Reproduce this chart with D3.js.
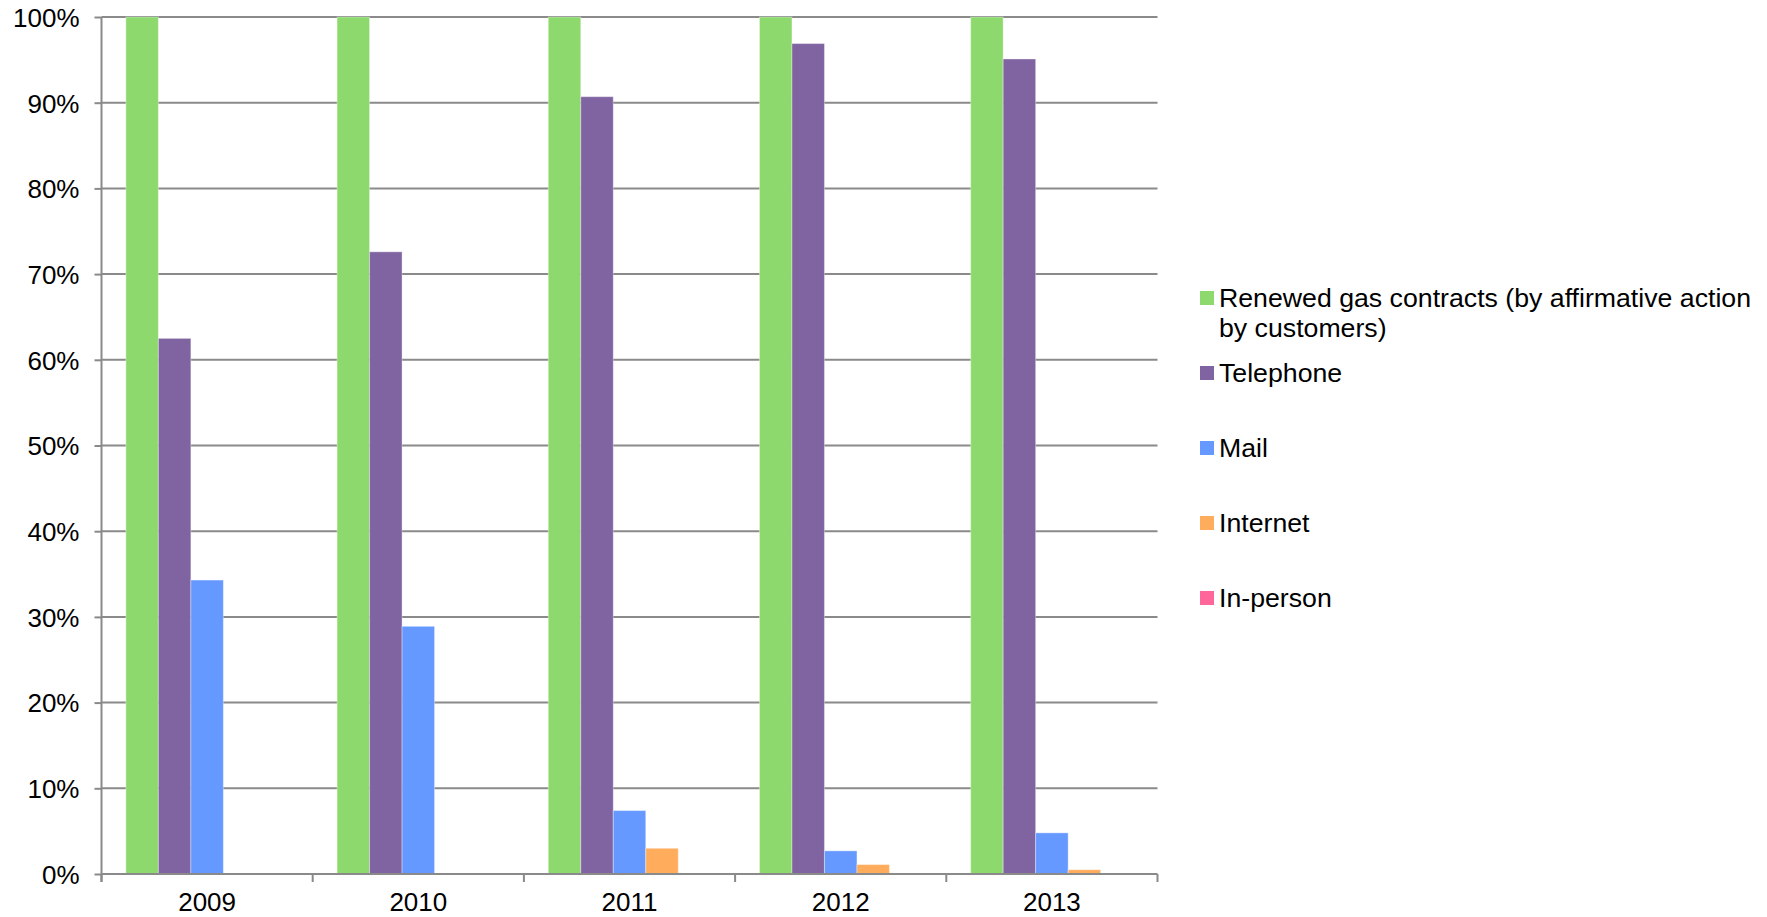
<!DOCTYPE html>
<html>
<head>
<meta charset="utf-8">
<script src="https://cdn.jsdelivr.net/npm/d3@7"></script>
<style>
  html, body { margin: 0; padding: 0; background: #ffffff; }
  svg { display: block; }
  text { font-family: "Liberation Sans", Arial, sans-serif; fill: #000; }
</style>
</head>
<body>
<svg id="chart" width="1767" height="917"></svg>
<script>
// Contract renewal channels by year (share of renewed contracts)
const years = ["2009", "2010", "2011", "2012", "2013"];
const seriesNames = [
  "Renewed gas contracts (by affirmative action by customers)",
  "Telephone",
  "Mail",
  "Internet",
  "In-person"
];
const renewed   = [1.000, 1.000, 1.000, 1.000, 1.000];
const telephone = [0.625, 0.726, 0.907, 0.969, 0.951];
const mail      = [0.343, 0.289, 0.074, 0.027, 0.048];
const internet  = [0.000, 0.000, 0.030, 0.011, 0.005];
const inPerson  = [0.000, 0.000, 0.000, 0.000, 0.000];
const yTicks = [0, 0.1, 0.2, 0.3, 0.4, 0.5, 0.6, 0.7, 0.8, 0.9, 1.0];

const seriesValues = [renewed, telephone, mail, internet, inPerson];
const colors = ["#8ED96E", "#8064A2", "#6699FF", "#FFAD5C", "#FF6699"];

const svg = d3.select("#chart");
const fontSize = 26;
const legendFontSize = 26.7;
const plot = { left: 101.5, right: 1157.5, top: 17, bottom: 874 };

const x = d3.scaleBand().domain(years).range([plot.left, plot.right]).padding(0);
const xInner = d3.scaleBand().domain(d3.range(seriesNames.length))
  .range([0, x.bandwidth()]).paddingInner(0).paddingOuter(0.75);
const y = d3.scaleLinear().domain([0, 1]).range([plot.bottom, plot.top]);

const gridColor = "#8a8a8a";

// Horizontal gridlines
svg.append("g")
  .selectAll("line")
  .data(yTicks.filter(d => d > 0))
  .join("line")
  .attr("x1", plot.left).attr("x2", plot.right)
  .attr("y1", d => y(d)).attr("y2", d => y(d))
  .attr("stroke", gridColor).attr("stroke-width", 2);

// Bars
const groups = svg.append("g")
  .selectAll("g")
  .data(seriesValues)
  .join("g")
  .attr("fill", (d, i) => colors[i]);

groups.selectAll("rect")
  .data((vals, si) => vals.map((v, yi) => ({ si, year: years[yi], v })))
  .join("rect")
  .filter(d => d.v > 0)
  .attr("x", d => x(d.year) + xInner(d.si))
  .attr("width", xInner.bandwidth())
  .attr("y", d => y(d.v))
  .attr("height", d => y(0) - y(d.v))
  .attr("stroke", "rgba(255,255,255,0.35)")
  .attr("stroke-width", 1);

// Y axis
const yAxis = d3.axisLeft(y)
  .tickValues(yTicks)
  .tickFormat(d3.format(".0%"))
  .tickSize(7)
  .tickPadding(15);
const gy = svg.append("g")
  .attr("transform", `translate(${plot.left},0)`)
  .call(yAxis);
gy.select(".domain").attr("stroke", gridColor).attr("stroke-width", 2)
  .attr("d", `M0,${plot.top}V${plot.bottom + 8}`);
gy.selectAll(".tick line").attr("stroke", gridColor).attr("stroke-width", 2);
gy.selectAll(".tick text")
  .attr("font-size", fontSize)
  .attr("font-family", "Liberation Sans, Arial, sans-serif")
  .attr("fill", "#000")
  .attr("dy", "0.36em");

// X axis: labels at band centres, tick marks at band boundaries
const xAxis = d3.axisBottom(x).tickSize(0).tickPadding(19);
const gx = svg.append("g")
  .attr("transform", `translate(0,${plot.bottom})`)
  .call(xAxis);
gx.select(".domain").attr("stroke", gridColor).attr("stroke-width", 2)
  .attr("d", `M${plot.left},0H${plot.right}`);
gx.selectAll(".tick text")
  .attr("font-size", fontSize)
  .attr("font-family", "Liberation Sans, Arial, sans-serif")
  .attr("fill", "#000");

const boundaries = years.map(d => x(d)).concat([x(years[years.length - 1]) + x.bandwidth()]);
gx.append("g")
  .selectAll("line")
  .data(boundaries)
  .join("line")
  .attr("x1", d => d).attr("x2", d => d)
  .attr("y1", 0).attr("y2", 8)
  .attr("stroke", gridColor).attr("stroke-width", 2);

// Legend
const legend = svg.append("g").attr("transform", "translate(1200,0)");
const legendY = [298, 373, 448, 523, 598];
const legendLines = [
  ["Renewed gas contracts (by affirmative action", "by customers)"],
  ["Telephone"], ["Mail"], ["Internet"], ["In-person"]
];
const items = legend.selectAll("g")
  .data(seriesNames)
  .join("g")
  .attr("transform", (d, i) => `translate(0,${legendY[i]})`);
items.append("rect")
  .attr("x", 0).attr("y", -7)
  .attr("width", 14).attr("height", 14)
  .attr("fill", (d, i) => colors[i]);
items.append("text")
  .attr("x", 19)
  .attr("y", 9)
  .attr("font-size", legendFontSize)
  .selectAll("tspan")
  .data((d, i) => legendLines[i])
  .join("tspan")
  .attr("x", 19)
  .attr("dy", (d, j) => j === 0 ? 0 : 29.5)
  .text(d => d);
</script>
</body>
</html>
